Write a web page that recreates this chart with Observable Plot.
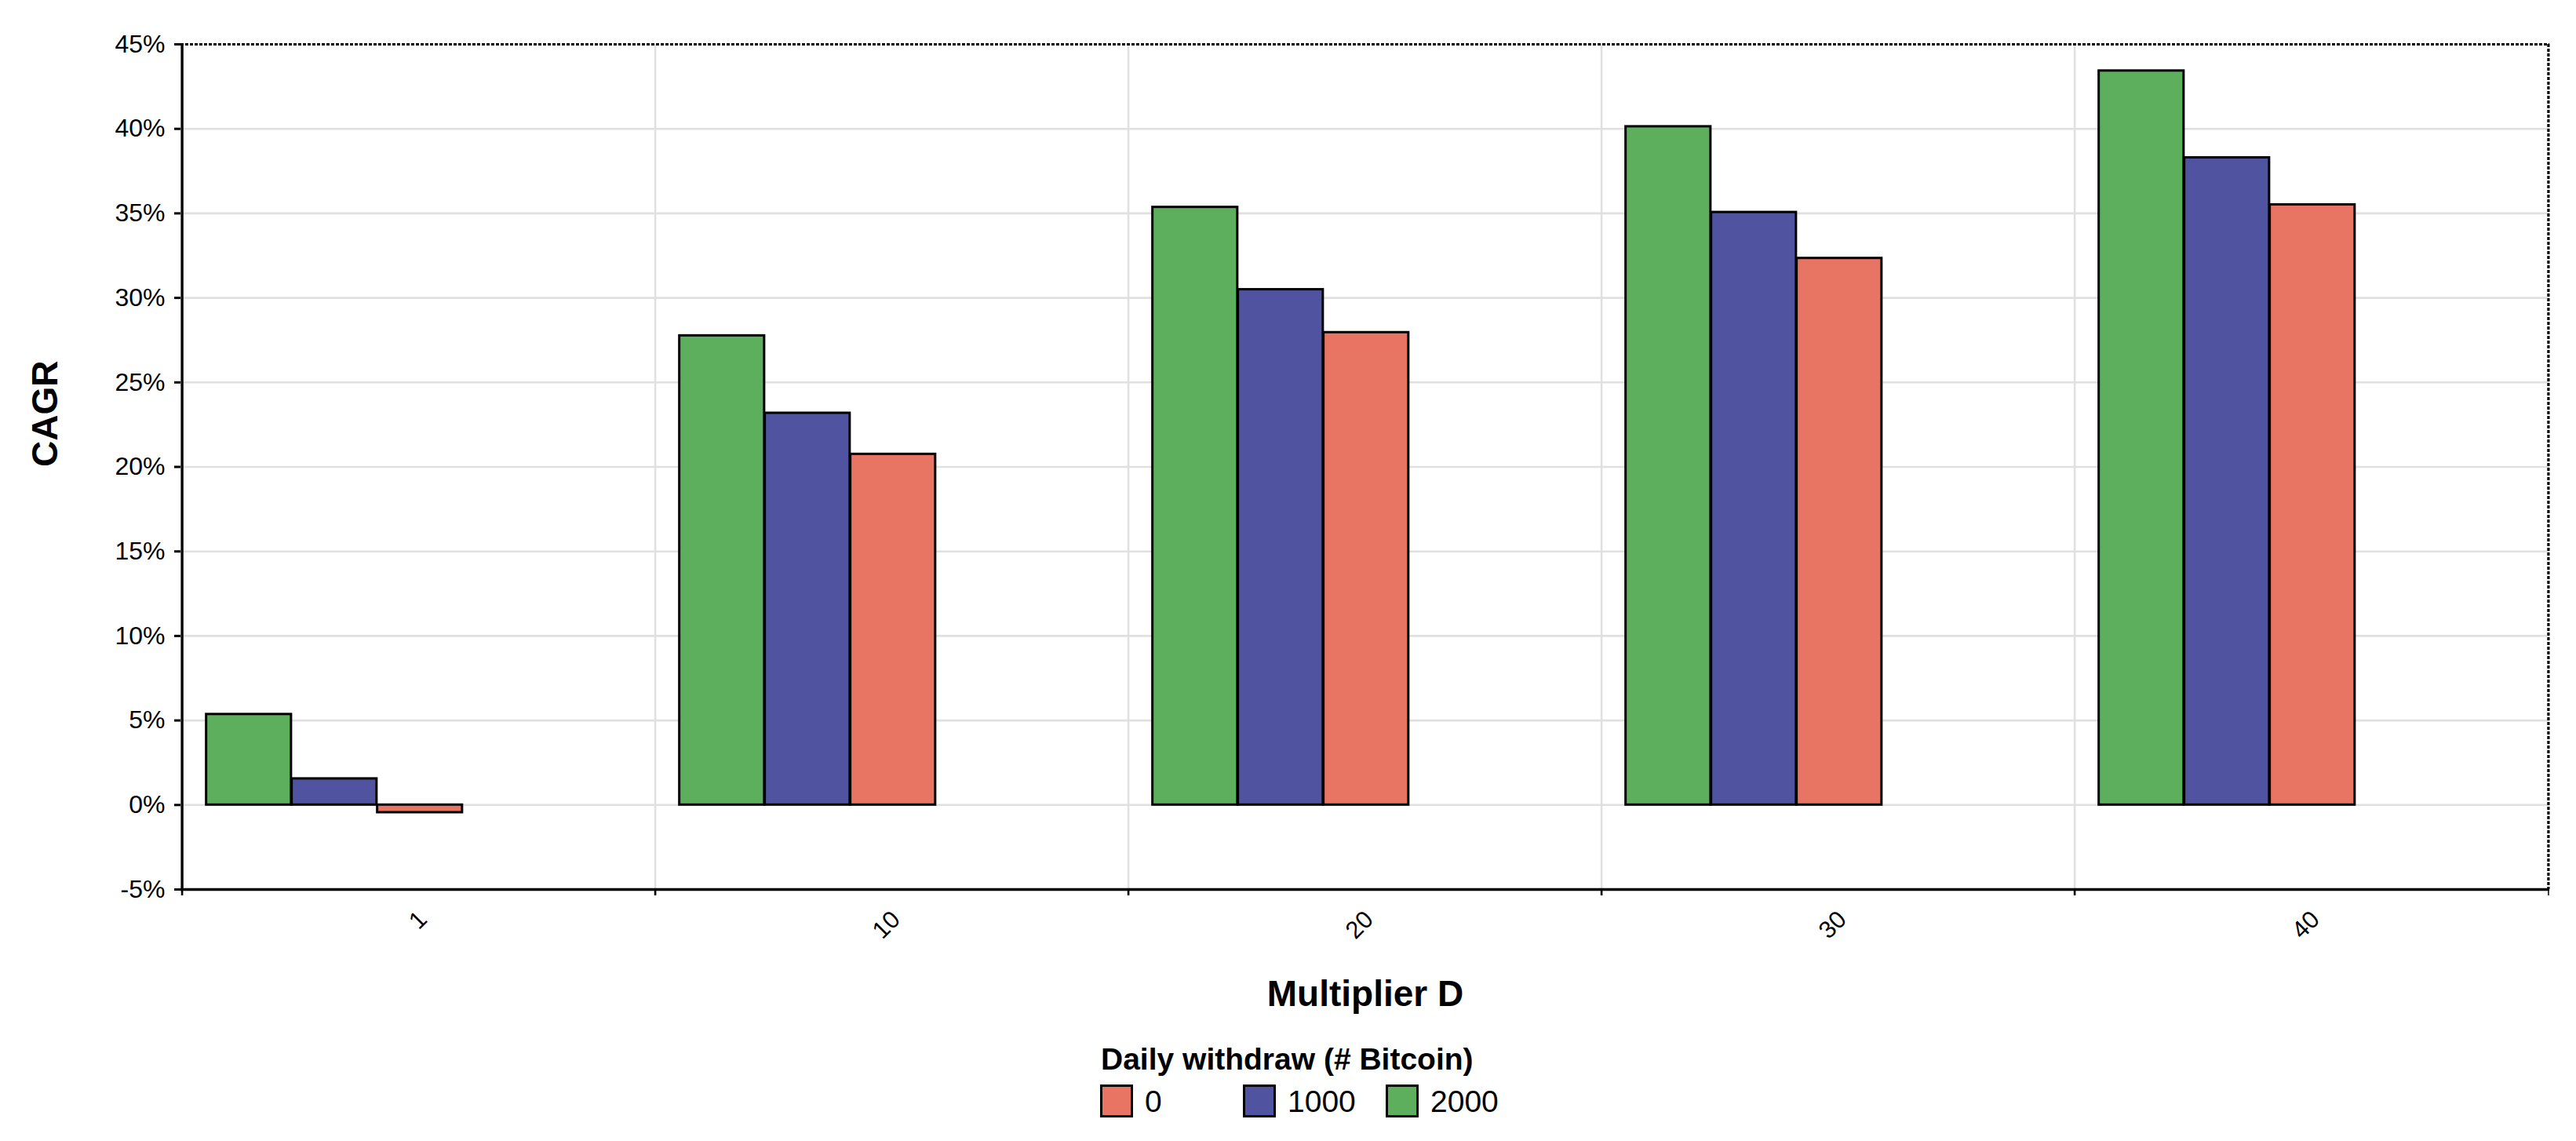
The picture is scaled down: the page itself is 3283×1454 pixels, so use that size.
<!DOCTYPE html>
<html><head><meta charset="utf-8">
<script src="https://cdn.jsdelivr.net/npm/d3@7"></script>
<script src="https://cdn.jsdelivr.net/npm/@observablehq/plot@0.6"></script>
<style>
html,body{margin:0;padding:0;background:#fff;}
body{width:3283px;height:1454px;position:relative;overflow:hidden;font-family:"Liberation Sans",Arial,sans-serif;color:#000;}
#chart{position:absolute;left:0;top:0;}
#legend{position:absolute;left:1402px;top:1330px;}
#legend .title{font-weight:bold;font-size:39px;line-height:39px;white-space:nowrap;margin-left:1px;}
#legend .row{display:flex;margin-top:13px;}
#legend .item{display:flex;align-items:center;width:182px;}
#legend .sw{width:42px;height:42px;box-sizing:border-box;border:3px solid #000;margin-right:15px;}
#legend .lab{font-size:39px;line-height:39px;}
</style></head><body>
<div id="chart"></div>
<div id="legend"></div>
<script>
// ---- data ----
const categories = ["1", "10", "20", "30", "40"];
const seriesOrder = ["2000", "1000", "0"];          // bar order inside each group
const legendOrder = ["0", "1000", "2000"];          // legend order
const cagr2000 = [5.36, 27.76, 35.36, 40.13, 43.43];
const cagr1000 = [1.55, 23.18, 30.49, 35.06, 38.29];
const cagr0    = [-0.45, 20.75, 27.95, 32.34, 35.51];
const yTicks = [-5, 0, 5, 10, 15, 20, 25, 30, 35, 40, 45];
const seriesColors = ["#E87464", "#50539F", "#5DAF5E"]; // for legendOrder
const xTitle = "Multiplier D";
const yTitle = "CAGR";
const legendTitle = "Daily withdraw (# Bitcoin)";

const values = {"2000": cagr2000, "1000": cagr1000, "0": cagr0};
const rows = seriesOrder.flatMap(s => categories.map((c, i) => ({multiplier: c, withdraw: s, cagr: values[s][i]})));

// ---- layout ----
const W = 3283, H = 1320;
const mL = 230, mR = 34, mT = 56, mB = H - 1133;
const bw = (W - mL - mR) / categories.length;
const groupOffset = 0.0508 * bw, barW = 0.1805 * bw;
const frameH = H - mT - mB;

const bars = seriesOrder.map((s, k) => Plot.barY(rows.filter(d => d.withdraw === s), {
  x: "multiplier", y: "cagr", fill: "withdraw", stroke: "black", strokeWidth: 3,
  insetLeft: groupOffset + k * barW,
  insetRight: bw - groupOffset - (k + 1) * barW
}));

const chart = Plot.plot({
  width: W, height: H,
  marginLeft: mL, marginRight: mR, marginTop: mT, marginBottom: mB,
  style: {fontFamily: "Liberation Sans, Arial, sans-serif", background: "white", color: "black", overflow: "visible"},
  x: {type: "band", domain: categories, padding: 0, axis: null},
  y: {domain: [-5, 45], axis: null},
  color: {domain: legendOrder, range: seriesColors},
  marks: [
    // horizontal gridlines
    Plot.ruleY(yTicks.filter(t => t > -5 && t < 45), {stroke: "#e0e0e0", strokeWidth: 2.6}),
    // vertical gridlines at category boundaries
    Plot.ruleX(categories.slice(1), {x: d => d, dx: -bw / 2, stroke: "#e0e0e0", strokeWidth: 2.6}),
    ...bars,
    // top & right dotted border
    Plot.ruleY([45], {stroke: "black", strokeWidth: 3.2, strokeDasharray: "4,2"}),
    Plot.ruleX(categories.slice(-1), {x: d => d, dx: bw / 2, stroke: "black", strokeWidth: 3.2, strokeDasharray: "4,2"}),
    // axis lines
    Plot.ruleY([-5], {stroke: "black", strokeWidth: 3.4}),
    Plot.ruleX(categories.slice(0, 1), {x: d => d, dx: -bw / 2, stroke: "black", strokeWidth: 3.4}),
    // x boundary ticks
    Plot.ruleX(categories, {x: d => d, dx: -bw / 2, stroke: "black", strokeWidth: 2.6, insetTop: frameH, insetBottom: -8}),
    Plot.ruleX(categories.slice(-1), {x: d => d, dx: bw / 2, stroke: "black", strokeWidth: 1.5, insetTop: frameH, insetBottom: -8}),
    // y axis
    Plot.axisY({ticks: yTicks, tickFormat: d => `${d}%`, tickSize: 8, tickPadding: 12, fontSize: 32, strokeWidth: 3, label: null}),
    // x axis labels
    Plot.axisX({tickSize: 0, tickRotate: -45, textAnchor: "end", lineAnchor: "bottom", fontSize: 31, label: null, tickPadding: 0, dx: 12, dy: 40}),
    // axis titles
    Plot.text([yTitle], {text: d => d, frameAnchor: "left", rotate: -90, dx: -158, lineAnchor: "bottom", fontSize: 46, fontWeight: "bold"}),
    Plot.text([xTitle], {text: d => d, frameAnchor: "bottom", dy: 148, lineAnchor: "bottom", fontSize: 46, fontWeight: "bold"})
  ]
});
document.getElementById("chart").appendChild(chart);

// ---- legend ----
const legend = document.getElementById("legend");
const t = document.createElement("div");
t.className = "title"; t.textContent = legendTitle;
legend.appendChild(t);
const row = document.createElement("div"); row.className = "row";
const colorScale = chart.scale("color");
legendOrder.forEach(s => {
  const it = document.createElement("div"); it.className = "item";
  const sw = document.createElement("div"); sw.className = "sw"; sw.style.background = colorScale.apply(s);
  const lab = document.createElement("span"); lab.className = "lab"; lab.textContent = s;
  it.appendChild(sw); it.appendChild(lab); row.appendChild(it);
});
legend.appendChild(row);
</script>
</body></html>
